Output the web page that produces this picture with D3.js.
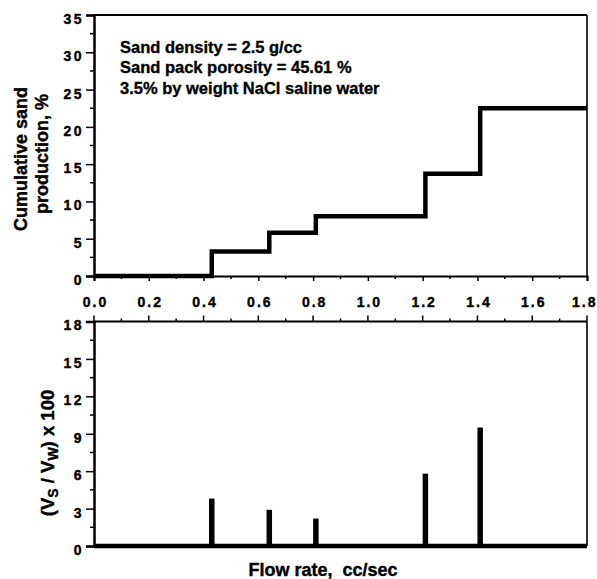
<!DOCTYPE html>
<html>
<head>
<meta charset="utf-8">
<script src="https://cdn.jsdelivr.net/npm/d3@7"></script>
<style>
  html, body { margin: 0; padding: 0; background: #fff; }
  svg { display: block; }
  text { font-family: "Liberation Sans", Arial, Helvetica, sans-serif; font-weight: bold; fill: #000; }
</style>
</head>
<body>
<svg id="chart" width="597" height="579"></svg>
<script>
// Flow rate steps (cc/sec) at which sand production jumped
const flowRates = [0.43, 0.64, 0.81, 1.21, 1.41];
// Cumulative sand production (%) after each step
const cumulativeSand = [3.3, 5.8, 8.0, 13.7, 22.5];
// Sand-to-water volume ratio x 100 at each step
const sandWaterRatio = [3.8, 2.9, 2.2, 5.8, 9.5];

const xMax = 1.8;
const xTicks = [0, 0.2, 0.4, 0.6, 0.8, 1.0, 1.2, 1.4, 1.6, 1.8];
const xMinor = d3.range(0.1, 1.8, 0.2);
const topYTicks = [0, 5, 10, 15, 20, 25, 30, 35];
const topYMinor = d3.range(2.5, 35, 5);
const botYTicks = [0, 3, 6, 9, 12, 15, 18];
const botYMinor = d3.range(1.5, 18, 3);
const notes = [
  "Sand density = 2.5 g/cc",
  "Sand pack porosity = 45.61 %",
  "3.5% by weight NaCl saline water"
];

const svg = d3.select("#chart");

const x = d3.scaleLinear().domain([0, xMax]).range([94, 587]);
const yTop = d3.scaleLinear().domain([0, 35]).range([276, 15]);
const yBot = d3.scaleLinear().domain([0, 18]).range([546, 321.5]);

// heavier strokes on glyphs to give the printed, dark lettering
function heavy(sel, w) {
  return sel.attr("stroke", "#000").attr("stroke-width", w).attr("paint-order", "stroke");
}

function frame(y, g) {
  const [y0, y1] = y.range();
  g.append("line").attr("x1", x.range()[0]).attr("x2", x.range()[1]).attr("y1", y1).attr("y2", y1)
    .attr("stroke", "#000").attr("stroke-width", 2);
  g.append("line").attr("x1", x.range()[1]).attr("x2", x.range()[1]).attr("y1", y1).attr("y2", y0)
    .attr("stroke", "#000").attr("stroke-width", 1.6);
}

function yAxis(y, major, minor, g) {
  const ax = g.append("g").attr("transform", `translate(${x.range()[0]},0)`);
  ax.call(d3.axisLeft(y).tickValues(major).tickSize(8).tickPadding(4).tickFormat(d3.format("d")))
    .call(a => a.select(".domain").attr("stroke-width", 2.5))
    .call(a => a.selectAll(".tick line").attr("stroke-width", 1.5))
    .call(a => heavy(a.selectAll("text"), 0.4).attr("font-size", 14).attr("letter-spacing", 2.5)
      .attr("font-family", "'Liberation Sans', Arial, sans-serif").attr("font-weight", "bold")
      .attr("dx", 2).attr("y", 4));
  ax.selectAll(".minor").data(minor).join("line").attr("class", "minor")
    .attr("x1", -4).attr("x2", 0).attr("y1", d => y(d)).attr("y2", d => y(d))
    .attr("stroke", "#000").attr("stroke-width", 1.5);
}

// ---- Top panel: cumulative sand production ----
const gTop = svg.append("g");
frame(yTop, gTop);
yAxis(yTop, topYTicks, topYMinor, gTop);

const xAxTop = gTop.append("g").attr("transform", `translate(0,${yTop(0)})`);
xAxTop.call(d3.axisBottom(x).tickValues(xTicks).tickSize(5).tickPadding(16).tickFormat(d3.format(".1f")))
  .call(a => a.select(".domain").attr("stroke-width", 2))
  .call(a => a.selectAll(".tick line").attr("stroke-width", 1.5))
  .call(a => heavy(a.selectAll("text"), 0.4).attr("font-size", 14).attr("letter-spacing", 2)
    .attr("font-family", "'Liberation Sans', Arial, sans-serif").attr("font-weight", "bold").attr("dx", 1));
// keep the last label inside the window
xAxTop.selectAll(".tick").filter(d => d === xMax).select("text").attr("text-anchor", "end").attr("dx", 10);
xAxTop.selectAll(".minor").data(xMinor).join("line").attr("class", "minor")
  .attr("x1", d => x(d)).attr("x2", d => x(d)).attr("y1", 0).attr("y2", 3)
  .attr("stroke", "#000").attr("stroke-width", 1.5);

const stepPts = [[0, 0]].concat(flowRates.map((r, i) => [r, cumulativeSand[i]]));
stepPts.push([xMax, cumulativeSand[cumulativeSand.length - 1]]);
gTop.append("path")
  .attr("d", d3.line().x(d => x(d[0])).y(d => yTop(d[1])).curve(d3.curveStepAfter)(stepPts))
  .attr("fill", "none").attr("stroke", "#000").attr("stroke-width", 4.5)
  .attr("stroke-linejoin", "miter");

heavy(gTop.append("g").selectAll("text").data(notes).join("text"), 0.35)
  .attr("x", 120).attr("y", (d, i) => 52.5 + i * 20.5)
  .attr("font-size", 16.5).text(d => d);

heavy(gTop.append("text"), 0.4).attr("transform", "translate(27,159) rotate(-90)")
  .attr("text-anchor", "middle").attr("font-size", 18).text("Cumulative sand");
heavy(gTop.append("text"), 0.4).attr("transform", "translate(48,154) rotate(-90)")
  .attr("text-anchor", "middle").attr("font-size", 18).text("production, %");

// ---- Bottom panel: sand/water volume ratio ----
const gBot = svg.append("g");
frame(yBot, gBot);
yAxis(yBot, botYTicks, botYMinor, gBot);

const xAxBot = gBot.append("g").attr("transform", `translate(0,${yBot(18)})`);
xAxBot.selectAll(".major").data(xTicks).join("line").attr("class", "major")
  .attr("x1", d => x(d)).attr("x2", d => x(d)).attr("y1", 0).attr("y2", -6)
  .attr("stroke", "#000").attr("stroke-width", 1.5);
xAxBot.selectAll(".minor").data(xMinor).join("line").attr("class", "minor")
  .attr("x1", d => x(d)).attr("x2", d => x(d)).attr("y1", 0).attr("y2", -3)
  .attr("stroke", "#000").attr("stroke-width", 1.5);

gBot.selectAll(".bar").data(flowRates).join("line").attr("class", "bar")
  .attr("x1", d => x(d)).attr("x2", d => x(d))
  .attr("y1", yBot(0)).attr("y2", (d, i) => yBot(sandWaterRatio[i]))
  .attr("stroke", "#000").attr("stroke-width", 5.5);

gBot.append("line").attr("x1", x(0)).attr("x2", x(xMax)).attr("y1", yBot(0)).attr("y2", yBot(0))
  .attr("stroke", "#000").attr("stroke-width", 4.5);

const yLab = heavy(gBot.append("text"), 0.4).attr("transform", "translate(54,453) rotate(-90)")
  .attr("text-anchor", "middle").attr("font-size", 18.5);
yLab.append("tspan").text("(V");
yLab.append("tspan").attr("font-size", 14).attr("dy", 4).text("S");
yLab.append("tspan").attr("dy", -4).text(" / V");
yLab.append("tspan").attr("font-size", 14).attr("dy", 4).text("W");
yLab.append("tspan").attr("dy", -4).text(") x 100");

heavy(gBot.append("text"), 0.4).attr("x", 323).attr("y", 576).attr("text-anchor", "middle")
  .attr("font-size", 18).attr("xml:space", "preserve").text("Flow rate,  cc/sec");
</script>
</body>
</html>
